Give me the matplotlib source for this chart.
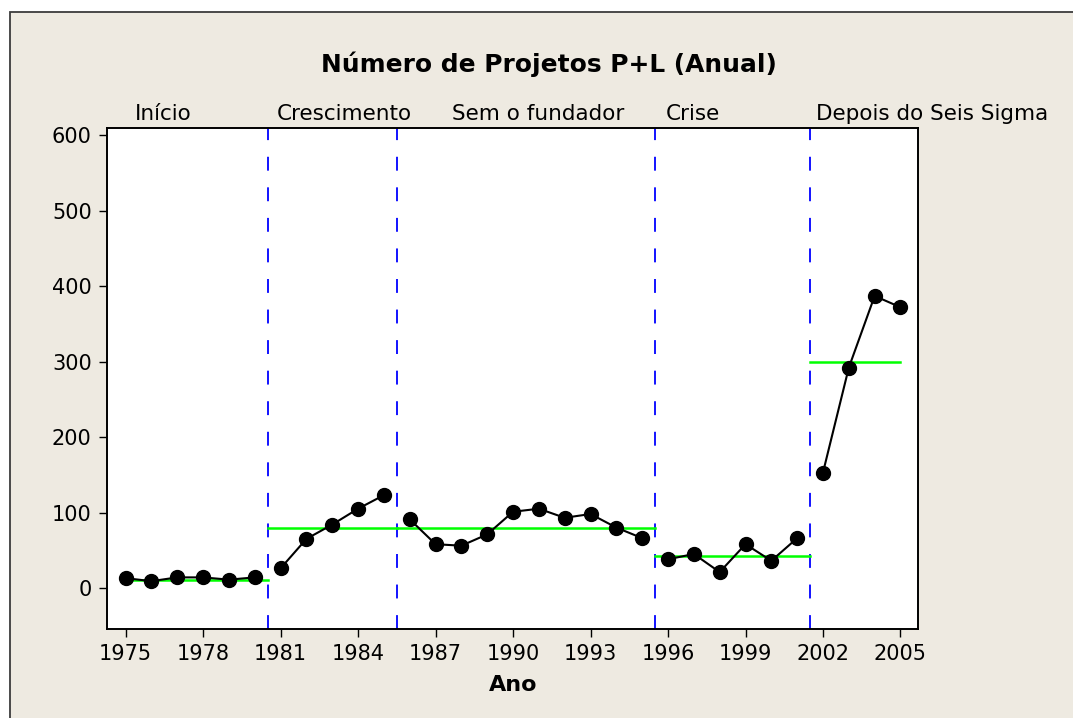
import matplotlib
matplotlib.use("Agg")
import matplotlib.pyplot as plt
from matplotlib.patches import Rectangle
import matplotlib.transforms as mtransforms

# ---- data ----
PHASES = ["Início", "Crescimento", "Sem o fundador", "Crise", "Depois do Seis Sigma"]
PHASE_YEARS = [
    [1975, 1976, 1977, 1978, 1979, 1980],
    [1981, 1982, 1983, 1984, 1985],
    [1986, 1987, 1988, 1989, 1990, 1991, 1992, 1993, 1994, 1995],
    [1996, 1997, 1998, 1999, 2000, 2001],
    [2002, 2003, 2004, 2005],
]
PHASE_VALUES = [
    [13, 9, 14, 14, 11, 14],
    [26, 65, 84, 105, 123],
    [91, 58, 56, 71, 101, 105, 93, 98, 80, 66],
    [38, 45, 21, 58, 36, 66],
    [153, 292, 387, 372],
]
PHASE_MEANS = [11, 80, 80, 43, 299]           # green level per phase
BOUNDARIES = [1980.5, 1985.5, 1995.5, 2001.5]  # dashed blue separators
LABEL_X = [1975.35, 1980.86, 1987.65, 1995.92, 2001.74]
XTICKS = list(range(1975, 2006, 3))
YTICKS = list(range(0, 601, 100))

BG = "#EEEAE1"
plt.rcParams["font.family"] = ["DejaVu Sans"]
plt.rcParams["lines.scale_dashes"] = False

fig = plt.figure(figsize=(10.73, 7.18), dpi=100, facecolor="white")
# outer beige frame (open to the right/bottom like the screenshot)
fig.patches.append(Rectangle((10 / 1073, -0.05), 1.1, 1 - 12 / 718 + 0.05,
                             transform=fig.transFigure, facecolor=BG,
                             edgecolor="#3c3c3c", linewidth=1.3, zorder=-5))

ax = fig.add_axes([107 / 1073, 1 - 628.7 / 718, (918.3 - 107) / 1073, (628.7 - 127.7) / 718])
ax.set_zorder(1)
ax.set_facecolor("white")
ax.set_xlim(1974.28, 2005.69)
ax.set_ylim(-54, 610)

# phase boundaries
for b in BOUNDARIES:
    ax.axvline(b, color="#0000FF", lw=1.3, dashes=(10, 12), zorder=2)

# phase means (span from boundary to boundary, clipped at first/last year)
edges = [PHASE_YEARS[0][0]] + BOUNDARIES + [PHASE_YEARS[-1][-1]]
for i, m in enumerate(PHASE_MEANS):
    ax.plot([edges[i], edges[i + 1]], [m, m], color="#00FF00", lw=1.8, zorder=3)

# data, one connected series per phase
for yrs, vals in zip(PHASE_YEARS, PHASE_VALUES):
    ax.plot(yrs, vals, color="black", lw=1.5, marker="o", markersize=10,
            markerfacecolor="black", markeredgecolor="black", zorder=4)

ax.set_xticks(XTICKS)
ax.set_yticks(YTICKS)
ax.tick_params(direction="out", length=6, width=1.0, labelsize=15, pad=5)
for s in ax.spines.values():
    s.set_linewidth(1.4)
ax.set_xlabel("Ano", fontsize=16, fontweight="bold", labelpad=8)

# phase labels above the plot
trans = mtransforms.blended_transform_factory(ax.transData, fig.transFigure)
for lab, x in zip(PHASES, LABEL_X):
    ax.text(x, 1 - 120 / 718, lab, transform=trans, ha="left", va="baseline",
            fontsize=15.5, clip_on=False)

fig.text(549 / 1073, 1 - 72 / 718, "Número de Projetos P+L (Anual)", ha="center",
         va="baseline", fontsize=17.9, fontweight="bold")

fig.savefig("out.png", dpi=100, facecolor=fig.get_facecolor())
